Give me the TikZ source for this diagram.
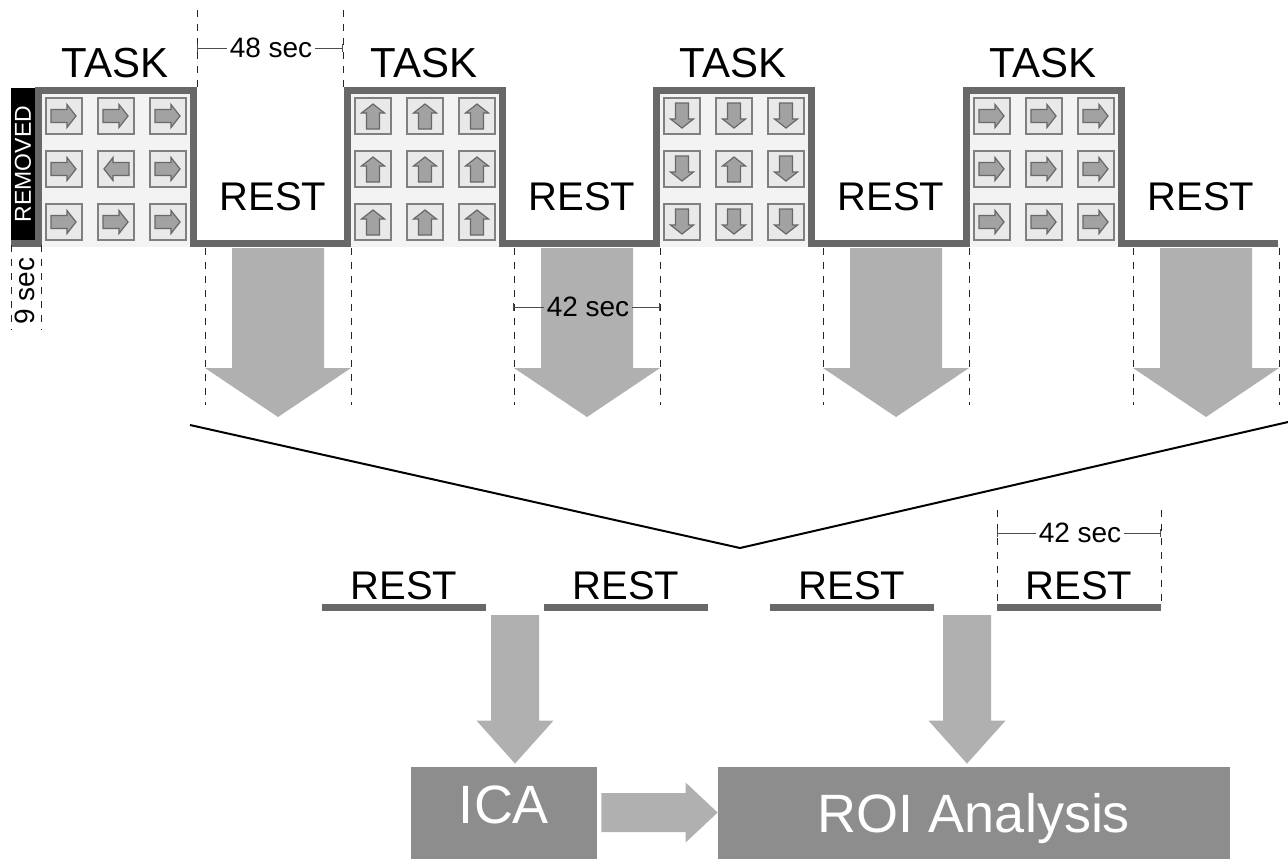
\documentclass[tikz,border=0pt]{standalone}
\usepackage{fontspec}
\setmainfont{Liberation Sans}
\usetikzlibrary{arrows.meta,calc,positioning}
\definecolor{wavegray}{HTML}{686868}
\definecolor{panelgray}{HTML}{F3F3F3}
\definecolor{cuefill}{HTML}{E9E9E9}
\definecolor{cueline}{HTML}{808080}
\definecolor{cuearr}{HTML}{A2A2A2}
\definecolor{arrowgray}{HTML}{B0B0B0}
\definecolor{boxgray}{HTML}{8D8D8D}
\tikzset{
    %Define the square wave of the paradigm
    wave/.style={draw=wavegray, line width=3.5pt},
    panel/.style={fill=panelgray},
    %Define style for the cue squares
    cue/.style={
      rectangle,
      draw=cueline, fill=cuefill,
      line width=0.7pt,
      minimum size=18pt,
      inner sep=0pt},
    % arrow inside a cue square
    cuearrow/.pic={
      \draw[fill=cuearr, draw=wavegray, line width=0.6pt]
        (-6.5pt,-3.25pt) -- (1.5pt,-3.25pt) -- (1.5pt,-5.75pt) -- (6pt,0pt)
        -- (1.5pt,5.75pt) -- (1.5pt,3.25pt) -- (-6.5pt,3.25pt) -- cycle;},
    %Define styles for labels
    tasklbl/.style={font=\fontsize{21}{24}\selectfont, anchor=base, inner sep=0pt},
    restlbl/.style={font=\fontsize{20}{24}\selectfont, anchor=base, inner sep=0pt},
    secs/.style={font=\fontsize{14}{16}\selectfont, inner sep=1pt},
    % dashed guides and duration lines
    guide/.style={black!85, line width=0.5pt, dash pattern=on 3.5pt off 3.5pt},
    dimln/.style={black!70, line width=0.5pt},
    tick/.style={dimln, {Bar[width=4pt]}-},
    restbar/.style={draw=wavegray, line width=3.5pt},
    %Define style for the analysis boxes
    stage/.style={
      rectangle,
      fill=boxgray,
      text=white,
      inner sep=0pt,
      font=\fontsize{27}{30}\selectfont}
}
% grey block arrow: start, tip, half shaft, half head, head length
\newcommand{\blockarrow}[5]{%
  \coordinate (ba-hb) at ($(#2)!#5!(#1)$);
  \fill[arrowgray] ($(#1)!#3!90:(ba-hb)$) -- ($(ba-hb)!#3!-90:(#1)$)
    -- ($(ba-hb)!#4!-90:(#1)$) -- (#2) -- ($(ba-hb)!#4!90:(#1)$)
    -- ($(ba-hb)!#3!90:(#1)$) -- ($(#1)!#3!-90:(ba-hb)$) -- cycle;}

\begin{document}
\begin{tikzpicture}[x=0.5pt, y=-0.5pt]
    \useasboundingbox (0,0) rectangle (1288,858);

    % task blocks with their cues
    \foreach \tx/\main/\mid [count=\k] in {38/0/180, 347/90/90, 656/270/90, 966/0/0} {
      \fill[panel] ({\tx+4},93) rectangle ({\tx+152},247);
      \foreach \c in {0,1,2} \foreach \r in {0,1,2} {
        \pgfmathsetmacro\ang{(\c==1 && \r==1) ? \mid : \main}
        \node[cue] (cue-\k-\c-\r) at ({\tx+26+52*\c},{116+53*\r}) {};
        \pic[rotate=\ang] at (cue-\k-\c-\r) {cuearrow};
      }
      \node[tasklbl] (task-\k) at ({\tx+77},77) {TASK};
      \node[restlbl] (rest-\k) at ({\tx+155+80},210) {REST};
    }

    \node[fill=black, text=white, rotate=90, minimum width=76pt, minimum height=12pt,
      inner sep=0pt, font=\fontsize{11.5}{12}\selectfont] (removed) at (23,164) {REMOVED};

    \draw[wave] (11,243) \foreach \tx in {38,347,656,966} {
      -- (\tx,243) -- (\tx,90) -- ({\tx+155},90) -- ({\tx+155},243) } -- (1278,243);

    % 48 sec
    \draw[guide] (197,10) -- (197,88);
    \draw[guide] (343,10) -- (343,88);
    \node[secs] (sec48) at (271,48) {48 sec};
    \draw[tick] (197,48) -- (sec48.west);
    \draw[tick] (343,48) -- (sec48.east);

    % 9 sec
    \draw[guide] (11,245) -- (11,330);
    \draw[guide] (41,245) -- (41,330);
    \node[secs, rotate=90] (sec9) at (25,291) {9 sec};

    % rest periods taken out
    \foreach \tx [count=\k] in {38,347,656,966} {
      \coordinate (drop-\k) at ({\tx+240},248);
      \coordinate (tip-\k) at ({\tx+240},417);
      \blockarrow{drop-\k}{tip-\k}{23pt}{36.5pt}{24.5pt}
      \draw[guide] ({\tx+167},248) -- ({\tx+167},405);
      \draw[guide] ({\tx+313},248) -- ({\tx+313},405);
    }
    \node[secs] (sec42a) at (588,307) {42 sec};
    \draw[tick] (513,307) -- (sec42a.west);
    \draw[tick] (660,307) -- (sec42a.east);

    % funnel
    \coordinate (fun-l) at (190,425);
    \coordinate (fun-m) at (740,548);
    \coordinate (fun-r) at (1288,422);
    \draw[line width=1pt] (fun-l) -- (fun-m) -- (fun-r);

    % concatenated rest periods
    \foreach \bx [count=\k] in {322,544,770,997} {
      \draw[restbar] (\bx,607) -- ({\bx+164},607);
      \node[restlbl] (low-\k) at ({\bx+82},599) {REST};
    }
    \draw[guide] (997,510) -- (997,604);
    \draw[guide] (1161,510) -- (1161,604);
    \node[secs] (sec42b) at (1080,533) {42 sec};
    \draw[tick] (997,533) -- (sec42b.west);
    \draw[tick] (1161,533) -- (sec42b.east);

    % analysis
    \node[stage, minimum width=93pt, minimum height=46.5pt,
      text height=20pt, text depth=10.5pt] (ica) at (504,813.5) {ICA};
    \node[stage, minimum width=256pt, minimum height=46.5pt,
      text height=20pt, text depth=1.5pt] (roi) at (974,813.5) {ROI Analysis};

    \coordinate (feed-1) at (515,615);
    \coordinate (feed-2) at (967,615);
    \blockarrow{feed-1}{$(feed-1 |- ica.north)+(0,-3)$}{12pt}{19.25pt}{21.5pt}
    \blockarrow{feed-2}{$(feed-2 |- roi.north)+(0,-3)$}{12pt}{19.25pt}{21.5pt}
    \blockarrow{$(ica.east)+(4,-1)$}{$(roi.west)+(0,-1)$}{9.75pt}{15pt}{16pt}
\end{tikzpicture}
\end{document}
